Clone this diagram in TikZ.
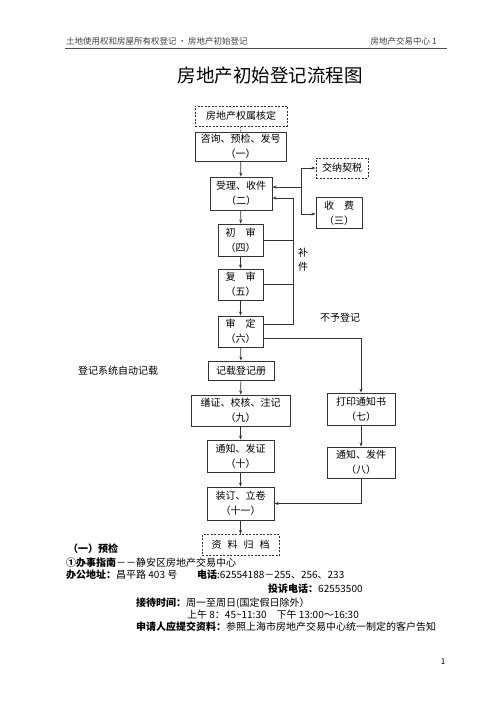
\documentclass[tikz,border=0pt]{standalone}
\usepackage{fontspec}
\setmainfont{Noto Sans CJK SC}
\usetikzlibrary{arrows.meta}

\begin{document}
\begin{tikzpicture}[
    x=1pt, y=-1pt,
    >={Stealth[length=4pt,width=3pt]},
    box/.style={draw=black!80, line width=0.9pt, align=center, inner sep=0pt,
                font=\fontsize{10}{15}\selectfont},
    dbox/.style={box, dash pattern=on 2pt off 1.5pt},
    edge/.style={->, draw=black!80, line width=0.7pt},
    link/.style={draw=black!80, line width=0.7pt},
    txt/.style={anchor=base west, inner sep=0pt, font=\fontsize{10}{12}\selectfont}
]
    \useasboundingbox (0,0) rectangle (500,708);

    % Kopfzeile
    \node[anchor=base west, inner sep=0pt, font=\fontsize{8.5}{10}\selectfont, text=black!75]
        (headl) at (66,45) {土地使用权和房屋所有权登记\,\textbullet\,房地产初始登记};
    \node[anchor=base east, inner sep=0pt, font=\fontsize{8.5}{10}\selectfont, text=black!75]
        (headr) at (437,45) {房地产交易中心 1};
    \draw[black!70, line width=0.8pt] (65,48) -- (447,48);

    \node[inner sep=0pt, font=\fontsize{18.5}{20}\selectfont] (title) at (270,76) {房地产初始登记流程图};

    % Hauptkette
    \node[dbox, minimum width=92pt, minimum height=20pt] (hedge) at (241,116) {房地产权属核定};
    \node[box, minimum width=91pt, minimum height=29pt] (b1) at (240.5,146.5) {咨询、预检、发号\\（一）};
    \node[box, minimum width=62pt, minimum height=33pt] (b2) at (241,193.5) {受理、收件\\（二）};
    \node[dbox, minimum width=52pt, minimum height=20pt] (tax) at (342,168) {交纳契税};
    \node[box, minimum width=46pt, minimum height=31pt] (fee) at (339,213) {收\hspace{1em}费\\（三）};
    \node[box, minimum width=45pt, minimum height=32pt] (b4) at (240.5,240) {初\hspace{1em}审\\（四）};
    \node[box, minimum width=45pt, minimum height=31pt] (b5) at (240.5,284.5) {复\hspace{1em}审\\（五）};
    \node[box, minimum width=45pt, minimum height=31pt] (b6) at (240.5,331.5) {审\hspace{1em}定\\（六）};
    \node[box, minimum width=66pt, minimum height=19pt] (rec) at (241,370.5) {记载登记册};
    \node[box, minimum width=99pt, minimum height=31pt] (b9) at (240.5,410.5) {缮证、校核、注记\\（九）};
    \node[box, minimum width=67pt, minimum height=32pt] (b10) at (240.5,456) {通知、发证\\（十）};
    \node[box, minimum width=67pt, minimum height=33pt] (b11) at (240.5,503.5) {装订、立卷\\（十一）};
    \node[dbox, minimum width=77pt, minimum height=21pt] (arch) at (240.5,545) {资\hspace{0.6em}料\hspace{0.6em}归\hspace{0.6em}档};

    % rechter Zweig
    \node[box, minimum width=68pt, minimum height=32pt] (b7) at (361,409) {打印通知书\\（七）};
    \node[box, minimum width=68pt, minimum height=31pt] (b8) at (361,462.5) {通知、发件\\（八）};

    % Beschriftungen
    \node[align=center, inner sep=0pt, font=\fontsize{10}{14}\selectfont] (bujian) at (303,260) {补\\件};
    \node[inner sep=0pt, font=\fontsize{10}{12}\selectfont] (refuse) at (340,318) {不予登记};
    \node[inner sep=0pt, font=\fontsize{10}{12}\selectfont] (auto) at (118,371) {登记系统自动记载};

    % Kanten der Kette
    \draw[link, dash pattern=on 2pt off 1.5pt] (hedge) -- (b1);
    \draw[edge] (b1) -- (b2);
    \draw[edge] (b2) -- (b4);
    \draw[edge] (b4) -- (b5);
    \draw[edge] (b5) -- (b6);
    \draw[edge] (b6) -- (rec);
    \draw[edge] (rec) -- (b9);
    \draw[edge] (b9) -- (b10);
    \draw[edge] (b10) -- (b11);
    \draw[edge] (b11) -- (arch);
    \draw[edge] (b7) -- (b8);

    % Steuern und Gebuehren
    \coordinate (fj) at (301,187);
    \coordinate (ft) at (301,168);
    \coordinate (fb) at (301,214);
    \draw[edge] (fj) -- (fj -| b2.east);
    \draw[link] (ft) -- (fb);
    \draw[edge] (ft) -- (tax.west);
    \draw[edge] (fb) -- (fb -| fee.west);

    % Ruecklauf Nachreichung
    \coordinate (bt) at (293,198);
    \coordinate (bb) at (293,324.5);
    \draw[edge] (bt) -- (bt -| b2.east);
    \draw[link] (bt) -- (bb) -- (bb -| b6.east);
    \draw[link] (b4.east) -- (b4.east -| bt);
    \draw[link] (b5.east) -- (b5.east -| bt);

    % Ablehnung
    \draw[edge] ([yshift=-6.5pt]b6.east) -| (b7.north);
    \draw[edge] (b8.south) |- (b11.east);

    % Hinweise
    \node[txt] (t1) at (68,552) {\textbf{（一）预检}};
    \node[txt] (t2) at (66,566) {\textbf{①办事指南}－－静安区房地产交易中心};
    \node[txt] (t3) at (66,578) {\textbf{办公地址：}昌平路 403 号};
    \node[txt] (t4) at (197,578) {\textbf{电话}:62554188－255、256、233};
    \node[txt] (t5) at (268,592) {\textbf{投诉电话：}62553500};
    \node[txt] (t6) at (136,606) {\textbf{接待时间：}周一至周日(国定假日除外）};
    \node[txt] (t7) at (187,618) {上午 8：45\textasciitilde 11:30\quad 下午 13:00～16:30};
    \node[txt] (t8) at (136,630) {\textbf{申请人应提交资料：}参照上海市房地产交易中心统一制定的客户告知};
    \node[inner sep=0pt, font=\fontsize{8}{9}\selectfont] (page) at (443,662) {1};
\end{tikzpicture}
\end{document}
